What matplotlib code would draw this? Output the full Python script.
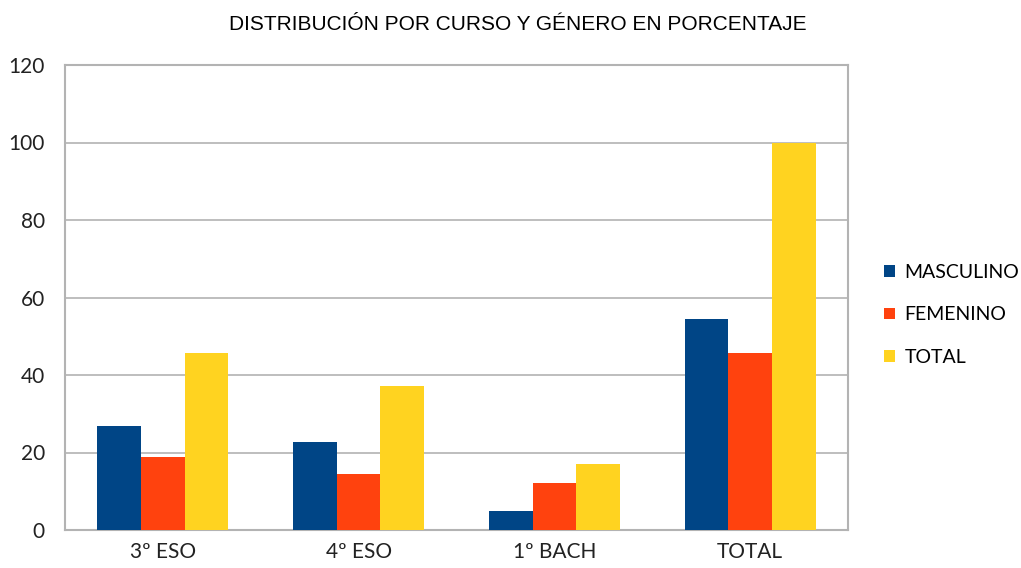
import matplotlib.pyplot as plt
import numpy as np

cursos = ["3º ESO", "4º ESO", "1º BACH", "TOTAL"]
masculino = [26.8, 22.7, 4.8, 54.4]
femenino = [18.8, 14.4, 12.1, 45.6]
total = [45.6, 37.1, 17.0, 100.0]

colores = ["#004586", "#ff420e", "#ffd320"]
nombres = ["MASCULINO", "FEMENINO", "TOTAL"]

plt.rcParams['font.family'] = ['Lato', 'DejaVu Sans']

fig = plt.figure(figsize=(10.21, 5.68), dpi=100)
ax = fig.add_axes([65/1021, 1 - 530/568, (848-65)/1021, (530-65)/568])

x = np.arange(len(cursos))
ancho = 0.223
barras = []
for i, serie in enumerate([masculino, femenino, total]):
    b = ax.bar(x + (i - 1) * ancho, serie, ancho, color=colores[i], label=nombres[i], zorder=3)
    barras.append(b)

ax.set_xlim(-0.5, 3.5)
ax.set_ylim(0, 120)
ax.set_yticks(range(0, 121, 20))
ax.set_xticks(x)
ax.set_xticklabels(cursos)
ax.grid(axis='y', color='#b3b3b3', linewidth=1.2, zorder=0)
for s in ax.spines.values():
    s.set_color('#b3b3b3')
    s.set_linewidth(1.5)
ax.tick_params(axis='both', length=0, labelsize=15, colors='#222222')
ax.tick_params(axis='y', pad=14.5)
ax.tick_params(axis='x', pad=9)

fig.text(518/1021, 1 - 25/568, "DISTRIBUCIÓN POR CURSO Y GÉNERO EN PORCENTAJE",
         ha='center', va='center', fontsize=15, family=['Liberation Sans'])

fig.legend(handles=barras, loc='center left', bbox_to_anchor=(884/1021, 1 - 315/568),
           frameon=False, fontsize=14, handlelength=0.55, handleheight=0.55,
           handletextpad=0.5, labelspacing=1.3, borderpad=0, borderaxespad=0)

fig.savefig("out.png", dpi=100)
